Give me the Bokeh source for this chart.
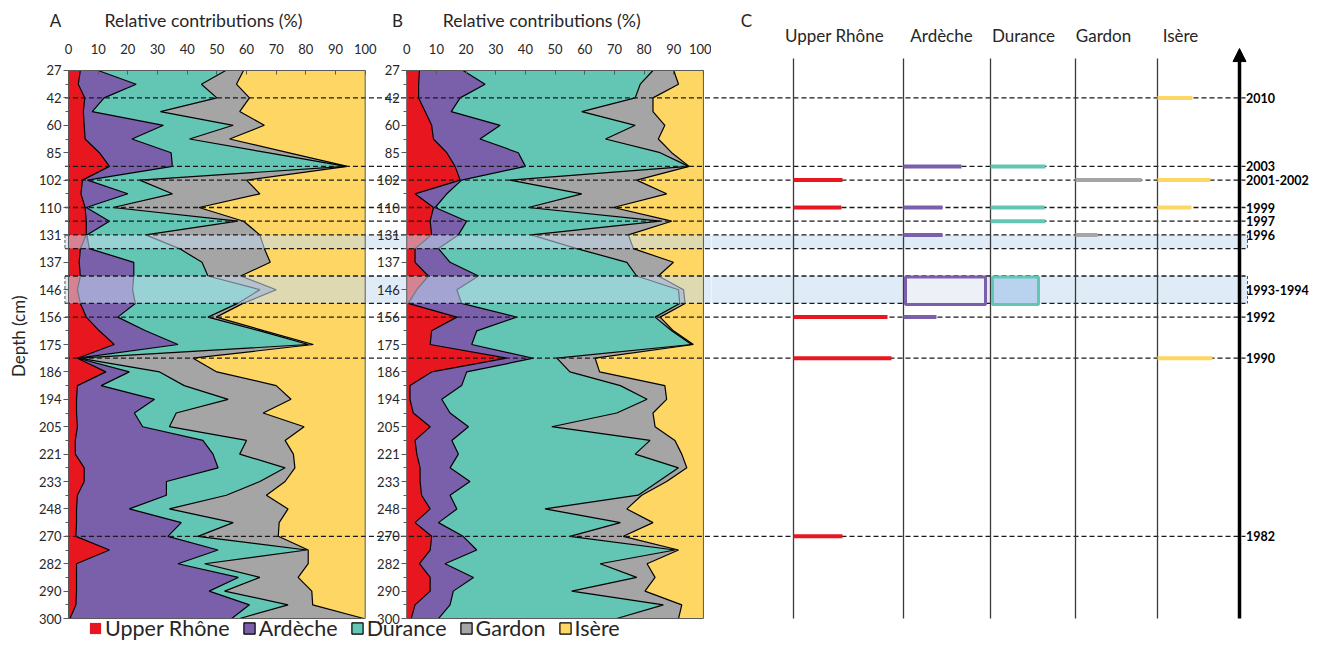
import numpy as np
from bokeh.plotting import figure
from bokeh.models import (Range1d, FixedTicker, LinearAxis, Legend, LegendItem,
                          Arrow, NormalHead)
from bokeh.layouts import row
from bokeh.embed import file_html
from bokeh.resources import INLINE
from bokeh.core.properties import value

# ---------------- data ----------------
depth_labels = ["27", "42", "60", "85", "102", "110", "131", "137", "146", "156", "175",
                "186", "194", "205", "221", "233", "248", "270", "282", "290", "300"]
sources = ["Upper Rhône", "Ardèche", "Durance", "Gardon", "Isère"]

# Panel A relative contributions (%) per sample (41 samples, top to bottom)
a_upper = [4.0, 3.3, 5.5, 5.0, 5.3, 5.6, 10.4, 13.8, 4.7, 4.2, 5.6, 6.0, 6.0, 4.0, 3.6, 4.0, 3.0, 4.0, 6.0, 10.4, 15.4,
           3.0, 12.6, 3.0, 2.7, 2.7, 3.0, 2.3, 2.3, 5.3, 5.3, 3.0, 2.7, 2.7, 2.5, 13.8, 2.7, 2.7, 2.7, 2.5, 0.5]
a_ardeche = [6.0, 19.5, 6.5, 3.0, 26.7, 15.8, 24.2, 21.2, 1.7, 15.8, 0.4, 7.8, 0.2, 3.0, 18.4, 18.0, 18.6, 18.5, 10.6, 15.6, 21.5,
             0.2, 7.9, 8.0, 26.3, 19.5, 22.0, 43.0, 46.4, 45.1, 27.7, 30.0, 17.8, 35.3, 31.0, 36.6, 34.2, 54.5, 44.7, 58.5, 54.5]
a_durance = [43.0, 22.0, 38.0, 23.0, 23.5, 19.4, 32.4, 58.5, 17.6, 15.0, 9.0, 43.2, 19.8, 30.4, 23.0, 25.0, 42.9, 34.5, 30.4, 38.5, 43.9,
             0.4, 10.2, 28.0, 24.8, 14.1, 9.0, 14.7, 9.0, 22.6, 31.5, 20.2, 13.5, 17.5, 10.1, 29.9, 9.0, 7.3, 5.2, 13.0, 2.7]
a_gardon = [6.0, 11.8, 11.0, 26.7, 10.5, 13.5, 7.0, 0.5, 36.0, 29.5, 29.0, 2.0, 38.5, 28.6, 23.0, 11.0, 5.5, 1.8, 2.8, 1.5, 1.7,
            38.4, 19.3, 31.0, 21.2, 29.3, 45.4, 13.0, 18.1, 3.3, 8.5, 13.5, 40.0, 15.5, 27.1, 0.5, 34.9, 12.9, 29.4, 8.3, 41.8]
a_isere = [41.0, 43.4, 39.0, 42.3, 34.0, 45.7, 26.0, 6.0, 40.0, 35.5, 56.0, 41.0, 35.5, 34.0, 32.0, 42.0, 30.0, 41.2, 50.2, 34.0, 17.5,
           58.0, 50.0, 30.0, 25.0, 34.4, 20.6, 27.0, 24.2, 23.7, 27.0, 33.3, 26.0, 29.0, 29.3, 19.2, 19.2, 22.6, 18.0, 17.7, 0.5]

# Panel B relative contributions (%)
b_upper = [4.3, 4.0, 4.0, 6.2, 8.4, 9.0, 13.5, 16.3, 18.0, 2.8, 9.0, 7.9, 8.4, 2.8, 2.8, 7.3, 3.4, 0.5, 16.9, 8.4, 7.9,
           33.7, 8.4, 1.1, 1.1, 2.2, 7.9, 2.8, 3.4, 4.5, 4.5, 5.0, 7.9, 2.8, 8.4, 7.9, 4.3, 7.9, 7.9, 2.8, 1.5]
b_ardeche = [14.7, 22.4, 14.0, 8.8, 23.1, 15.7, 24.1, 23.7, 0.5, 10.7, 0.6, 12.3, 9.0, 7.9, 11.8, 16.9, 13.5, 18.0, 20.1, 15.2, 14.0,
             9.0, 11.8, 17.4, 10.7, 12.4, 12.9, 12.4, 14.0, 10.1, 16.8, 9.6, 9.0, 7.9, 10.6, 15.7, 8.6, 14.6, 7.8, 11.8, 9.2]
b_durance = [64.0, 52.3, 59.0, 44.0, 45.5, 42.3, 47.8, 55.0, 16.3, 45.5, 31.4, 65.2, 24.6, 46.6, 59.6, 53.3, 74.7, 73.5, 46.7, 65.7, 74.1,
             7.9, 34.8, 53.5, 69.2, 56.2, 28.1, 66.8, 59.6, 77.0, 63.5, 63.4, 29.7, 61.3, 36.0, 66.8, 52.3, 55.0, 39.9, 71.9, 60.1]
b_gardon = [7.0, 12.9, 6.0, 24.0, 10.0, 17.8, 3.9, 0.2, 42.7, 28.6, 28.7, 3.9, 32.7, 19.1, 15.7, 7.3, 1.7, 1.8, 1.7, 0.6, 0.6,
            12.9, 10.0, 15.0, 6.6, 12.2, 34.8, 8.4, 15.7, 2.8, 2.8, 1.2, 27.6, 11.0, 18.0, 1.2, 15.8, 6.2, 24.7, 6.2, 20.8]
b_isere = [10.0, 8.4, 17.0, 17.0, 13.0, 15.2, 10.7, 4.8, 22.5, 12.4, 30.3, 10.7, 25.3, 23.6, 10.1, 15.2, 6.7, 6.2, 14.6, 10.1, 3.4,
           36.5, 35.0, 13.0, 12.4, 17.0, 16.3, 9.6, 7.3, 5.6, 12.4, 20.8, 25.8, 17.0, 27.0, 8.4, 19.0, 16.3, 19.7, 7.3, 8.4]

# Panel C: dated events (sample index where each year sits)
event_years = ["2010", "2003", "2001-2002", "1999", "1997", "1996", "1993-1994", "1992", "1990", "1982"]
event_index = [2, 7, 8, 10, 11, 12, 16, 18, 21, 34]
dashed_index = [2, 7, 8, 10, 11, 12, 13, 15, 17, 18, 21, 34]
band_top = [12, 15]
band_bottom = [13, 17]

bar_year = ["2010", "2003", "2003", "2001-2002", "2001-2002", "2001-2002", "1999", "1999", "1999", "1999",
            "1997", "1996", "1996", "1992", "1992", "1990", "1990", "1982"]
bar_source = ["Isère", "Ardèche", "Durance", "Upper Rhône", "Gardon", "Isère", "Upper Rhône", "Ardèche", "Durance", "Isère",
              "Durance", "Ardèche", "Gardon", "Upper Rhône", "Ardèche", "Upper Rhône", "Isère", "Upper Rhône"]
bar_length = [35, 58, 55, 49, 66, 53, 48, 39, 54, 34, 55, 39, 22, 94, 33, 98, 55, 49]
box_source = ["Ardèche", "Durance"]
box_length = [80, 46]

# ---------------- style / layout constants ----------------
FONT = "Lato"
colors = ["#E8171F", "#7A5FAA", "#63C5B3", "#A5A5A5", "#FDD663"]
DARK = "#262626"
N = len(a_upper)
ys = np.arange(N)
B_OFF = 114
H = 642
W_AB, W_C = 711, 599
Y_RANGE = (41.75, -5.109)          # sample index at canvas bottom / top
X_RANGE_AB = (-22.92, 216.72)      # percent units across the A+B canvas
X_RANGE_C = (711, 1310)
DASH = "5 3"

# ---------------- panels A + B ----------------
p = figure(width=W_AB, height=H, x_range=Range1d(*X_RANGE_AB), y_range=Range1d(*Y_RANGE),
           x_axis_location=None, y_axis_location=None, output_backend="svg",
           toolbar_location=None, min_border=0, outline_line_color=None)
p.grid.visible = False


def draw_panel(offset, vals):
    arr = np.vstack([np.array(v, dtype=float) for v in vals])
    arr = arr / arr.sum(axis=0) * 100.0
    cum = np.vstack([np.zeros(N), np.cumsum(arr, axis=0)])
    for k in range(5):
        p.harea(x1=offset + cum[k], x2=offset + cum[k + 1], y=ys, fill_color=colors[k])
    for k in range(1, 5):
        p.line(x=offset + cum[k], y=ys, line_color="black", line_width=1.2)


draw_panel(0, [a_upper, a_ardeche, a_durance, a_gardon, a_isere])
draw_panel(B_OFF, [b_upper, b_ardeche, b_durance, b_gardon, b_isere])

# shaded bands
p.quad(left=-1.2, right=X_RANGE_AB[1], top=band_top, bottom=band_bottom,
       fill_color="#C5DCF1", fill_alpha=0.55, line_color=None)
p.segment(x0=-1.2, x1=-1.2, y0=band_top, y1=band_bottom, line_color="#555555",
          line_dash="3 2", line_width=1)
# dashed event lines
p.segment(x0=-1.2, x1=X_RANGE_AB[1], y0=dashed_index, y1=dashed_index,
          line_color="#1a1a1a", line_dash=DASH, line_width=1.3)
# boxes
p.quad(left=[0, B_OFF], right=[100, B_OFF + 100], top=0, bottom=40,
       fill_color=None, line_color="#595959", line_width=1)

# axes (fixed inside the canvas so that both panels get their own)
ticks_y = list(range(0, 41, 2))
minor_y = list(range(1, 40, 2))
ov_y = {t: lab for t, lab in zip(ticks_y, depth_labels)}
for loc in (0, B_OFF):
    ax = LinearAxis(fixed_location=loc)
    ax.ticker = FixedTicker(ticks=ticks_y, minor_ticks=minor_y)
    ax.major_label_overrides = ov_y
    ax.axis_line_color = None
    ax.major_tick_out = 5
    ax.major_tick_in = 0
    ax.minor_tick_out = 3
    ax.minor_tick_in = 0
    ax.major_label_standoff = 2
    ax.major_tick_line_color = "#595959"
    ax.minor_tick_line_color = "#595959"
    ax.major_label_text_font = FONT
    ax.major_label_text_font_size = "13px"
    ax.major_label_text_color = DARK
    p.add_layout(ax, "left")

xt = list(range(0, 101, 10)) + list(range(B_OFF, B_OFF + 101, 10))
xa = LinearAxis(fixed_location=0)
xa.ticker = FixedTicker(ticks=xt, minor_ticks=[])
xa.major_label_overrides = {t: str(t if t <= 100 else t - B_OFF) for t in xt}
xa.axis_line_color = None
xa.major_tick_in = 4
xa.major_tick_out = 0
xa.major_tick_line_color = "#595959"
xa.major_label_standoff = 16
xa.major_label_text_font = FONT
xa.major_label_text_font_size = "13px"
xa.major_label_text_color = DARK
p.add_layout(xa, "above")

# titles
p.text(x=[45.5, 159.5], y=[-3.65] * 2,
       text=["Relative contributions (%)", "Relative contributions (%)"],
       text_align="center", text_baseline="middle", text_font=value(FONT),
       text_font_size="17.7px", text_color=DARK)
p.text(x=[-4.4, 110.9], y=[-3.65] * 2, text=["A", "B"],
       text_align="center", text_baseline="middle", text_font=value(FONT),
       text_font_size="17px", text_color=DARK)
p.text(x=[-16.85], y=[19.4], text=["Depth (cm)"], angle=np.pi / 2,
       text_align="center", text_baseline="middle", text_font=value(FONT),
       text_font_size="17px", text_color=DARK)

# legend (swatches drawn off the visible range, used only as legend glyphs)
swatches = []
for k in range(5):
    swatches.append(p.quad(left=[-60], right=[-59], top=[-9], bottom=[-8], fill_color=colors[k],
                           line_color=None if k == 0 else "black", line_width=1.2))
legend = Legend(items=[LegendItem(label=s, renderers=[r]) for s, r in zip(sources, swatches)],
                orientation="horizontal", location=(88, 1))
legend.label_text_font = FONT
legend.label_text_font_size = "21.5px"
legend.label_text_color = DARK
legend.glyph_width = 14
legend.glyph_height = 14
legend.label_height = 22
legend.label_standoff = 3
legend.spacing = 12
legend.padding = 0
legend.margin = 0
legend.border_line_color = None
legend.background_fill_alpha = 0
p.add_layout(legend)

# ---------------- panel C ----------------
c = figure(width=W_C, height=H, x_range=Range1d(*X_RANGE_C), y_range=Range1d(*Y_RANGE),
           x_axis_location=None, y_axis_location=None, min_border=0,
           output_backend="svg", toolbar_location=None, outline_line_color=None)
c.grid.visible = False

col_x = {"Upper Rhône": 793, "Ardèche": 903, "Durance": 990, "Gardon": 1075, "Isère": 1157}
header_x = [834, 941, 1023, 1103, 1180]
col_color = dict(zip(sources, colors))
year_to_idx = dict(zip(event_years, event_index))

# bands
c.quad(left=705, right=1247, top=band_top, bottom=band_bottom,
       fill_color="#C5DCF1", fill_alpha=0.55, line_color=None)
c.segment(x0=1247, x1=1247, y0=band_top, y1=band_bottom, line_color="#555555",
          line_dash="3 2", line_width=1)
# dashed event lines
c.segment(x0=705, x1=1245, y0=dashed_index, y1=dashed_index, line_color="#1a1a1a",
          line_dash=DASH, line_width=1.3)
# column lines
cx = [col_x[s] for s in sources]
c.segment(x0=cx, x1=cx, y0=-0.88, y1=40, line_color="#3a3a3a", line_width=1.3)
# event bars
bx0 = [col_x[s] for s in bar_source]
bx1 = [col_x[s] + L for s, L in zip(bar_source, bar_length)]
by = [year_to_idx[y] for y in bar_year]
c.segment(x0=bx0, x1=bx1, y0=by, y1=by, line_color=[col_color[s] for s in bar_source],
          line_width=4)
# 1993-1994 boxes
c.quad(left=[col_x[s] + 2 for s in box_source],
       right=[col_x[s] + 2 + L for s, L in zip(box_source, box_length)],
       top=15.08, bottom=17.08, fill_color=["#EEF0F8", "#B9D3EE"],
       line_color=[col_color[s] for s in box_source], line_width=3)
# time arrow
c.add_layout(Arrow(end=NormalHead(size=13, fill_color="black", line_color="black"),
                   x_start=1239, y_start=40, x_end=1239, y_end=-1.6,
                   line_width=3.5, line_color="black"))
# headers
c.text(x=header_x, y=[-2.55] * 5, text=sources, text_align="center", text_baseline="middle",
       text_font=value(FONT), text_font_size="17px", text_color=DARK)
c.text(x=[746], y=[-3.65], text=["C"], text_align="center", text_baseline="middle",
       text_font=value(FONT), text_font_size="17px", text_color=DARK)
# year labels
c.text(x=[1245.5] * len(event_years), y=event_index, text=event_years, text_align="left",
       text_baseline="middle", text_font=value(FONT), text_font_size="12.5px",
       text_font_style="bold", text_color="black")

layout = row(p, c, spacing=0)
open("out.html", "w").write(file_html(layout, INLINE))
